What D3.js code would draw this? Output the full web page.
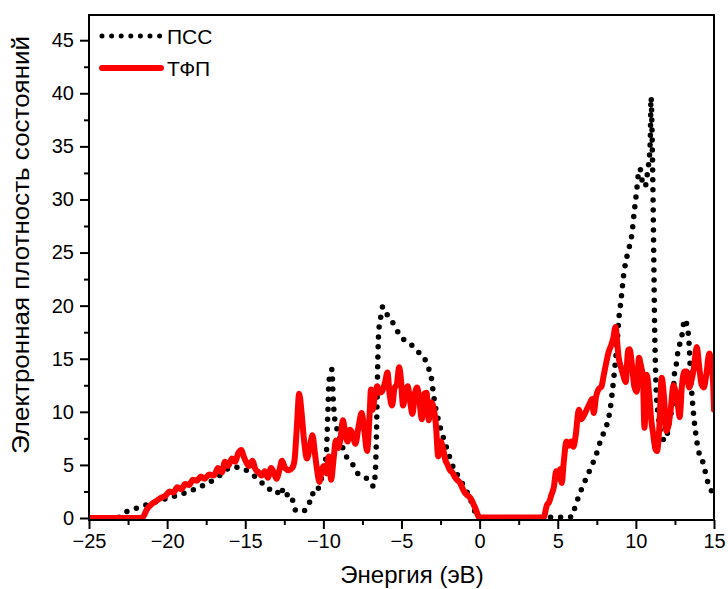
<!DOCTYPE html>
<html>
<head>
<meta charset="utf-8">
<script src="https://cdn.jsdelivr.net/npm/d3@7/dist/d3.min.js"></script>
<style>
  body { margin: 0; background: #fff; }
  svg { display: block; font-family: "Liberation Sans", Arial, sans-serif; }
</style>
</head>
<body>
<svg id="chart" width="728" height="589"></svg>
<script>
// Axis ticks
const xTicks = [-25, -20, -15, -10, -5, 0, 5, 10, 15];
const yTicks = [0, 5, 10, 15, 20, 25, 30, 35, 40, 45];

// Series names
const seriesNames = ["ПСС", "ТФП"];

// ПСС (density of states, dotted)
const pssE = [-25, -23.2, -22.8, -22.1, -21.4, -20.1, -19.0, -18.0, -16.9, -15.8, -15.1, -14.7, -14.3, -13.6, -13.0,
  -12.7, -12.5, -12.2, -11.95, -11.75, -11.3, -10.9, -10.75, -10.5, -10.3, -10.0, -9.8, -9.75, -9.7, -9.65, -9.55,
  -9.45, -9.38, -9.3, -9.15, -9.0, -8.5, -8.1, -7.8, -7.5, -7.2, -7.0, -6.8, -6.68, -6.62, -6.57, -6.52, -6.46,
  -6.35, -6.2, -5.9, -5.6, -5.3, -5.0, -4.5, -3.9, -3.55, -3.3, -3.1, -3.0, -2.9, -2.6, -2.2, -2.0, -1.8, -1.2,
  -0.6, -0.3, 0, 5.9, 6.1, 6.36, 6.6, 6.9, 7.2, 7.45, 7.7, 7.96, 8.2, 8.35, 8.5, 8.66, 8.8, 8.9, 9.05, 9.2, 9.45,
  9.75, 9.9, 10.07, 10.15, 10.26, 10.4, 10.6, 10.7, 10.8, 10.92, 10.97, 11.05, 11.1, 11.15, 11.2, 11.25, 11.3,
  11.45, 11.6, 11.85, 12.2, 12.4, 12.45, 12.6, 12.7, 12.9, 13.0, 13.1, 13.3, 13.4, 13.5, 13.65, 14.0, 14.3, 14.6,
  14.9, 15.0];
const pssDos = [0, 0, 0.45, 0.85, 1.2, 1.8, 2.3, 2.85, 3.7, 4.8, 4.6, 4.3, 3.8, 2.9, 2.3,
  2.9, 2.0, 2.3, 1.6, 0.65, 0.65, 1.4, 2.3, 2.2, 2.9, 4.5, 6.3, 8.4, 10.5, 12.7, 13.6,
  14.0, 11.5, 9.7, 8.5, 7.7, 5.7, 5.0, 4.2, 3.9, 3.7, 3.4, 3.0, 4.2, 6.7, 10.5, 14.6, 17.5,
  18.7, 19.9, 19.1, 18.5, 17.7, 17.0, 16.5, 15.6, 15.1, 14.2, 13.3, 12.2, 11.1, 9.0, 7.0, 6.1, 5.2, 3.5,
  1.8, 0.6, 0, 0.1, 1.0, 2.1, 3.0, 4.0, 5.0, 5.9, 7.1, 8.1, 9.1, 10.2, 12.0, 14.3, 16.5, 18.6, 20.5, 22.7, 24.8,
  26.8, 28.9, 31.1, 32.3, 32.9, 31.8, 31.2, 32.1, 33.1, 35.5, 39.6, 35.0, 30.0, 24.0, 18.0, 14.5, 12.0,
  9.5, 8.0, 7.3, 9.5, 11.4, 13.3, 14.6, 15.8, 16.8, 17.7, 18.7, 18.0, 16.5, 13.5, 10.5, 6.4, 5.2, 3.4,
  2.4, 2.2];

// ТФП (density of states, solid)
const dftE = [-25, -21.6, -21.3, -21.0, -20.7, -20.4, -20.1, -19.85, -19.6, -19.35, -19.1, -18.85, -18.6, -18.35,
  -18.1, -17.85, -17.6, -17.3, -17.0, -16.75, -16.5, -16.3, -16.1, -15.85, -15.65, -15.45, -15.25, -15.1, -14.95,
  -14.75, -14.55, -14.35, -14.15, -13.95, -13.75, -13.55, -13.35, -13.15, -13.0, -12.8, -12.65, -12.45, -12.2,
  -12.0, -11.85, -11.7, -11.55, -11.4, -11.25, -11.05, -10.85, -10.7, -10.55, -10.4, -10.25, -10.1, -9.95, -9.8,
  -9.65, -9.5, -9.35, -9.2, -9.05, -8.9, -8.75, -8.6, -8.45, -8.3, -8.15, -7.95, -7.75, -7.55, -7.4, -7.2, -7.05,
  -6.95, -6.85, -6.7, -6.55, -6.4, -6.25, -6.05, -5.9, -5.75, -5.6, -5.45, -5.3, -5.15, -5.05, -4.9, -4.75, -4.6,
  -4.45, -4.3, -4.15, -4.0, -3.85, -3.7, -3.55, -3.4, -3.25, -3.1, -2.95, -2.8, -2.65, -2.5, -2.35, -2.2, -2.05,
  -1.9, -1.75, -1.6, -1.45, -1.25, -1.1, -0.95, -0.75, -0.6, -0.3, 0, 4.1, 4.3, 4.45, 4.6, 4.75, 4.9, 5.0, 5.15,
  5.25, 5.4, 5.55, 5.7, 5.85, 6.0, 6.15, 6.35, 6.5, 6.65, 6.85, 7.05, 7.2, 7.3, 7.45, 7.6, 7.8, 7.95, 8.1, 8.25,
  8.4, 8.55, 8.7, 8.8, 8.9, 9.05, 9.2, 9.35, 9.5, 9.6, 9.75, 9.9, 10.05, 10.2, 10.3, 10.45, 10.55, 10.7, 10.85,
  11.0, 11.1, 11.25, 11.35, 11.5, 11.65, 11.8, 11.95, 12.1, 12.25, 12.4, 12.55, 12.7, 12.8, 12.95, 13.1, 13.25,
  13.4, 13.55, 13.7, 13.9, 14.05, 14.2, 14.35, 14.5, 14.7, 14.85, 14.95, 15.0];
const dftDos = [0, 0, 0.8, 1.3, 1.6, 1.9, 2.1, 2.5, 2.4, 2.9, 2.7, 3.2, 3.1, 3.6,
  3.5, 3.9, 3.7, 4.1, 4.0, 4.7, 4.3, 5.3, 4.9, 5.6, 5.3, 6.1, 6.4, 5.8, 5.3,
  4.9, 5.4, 4.6, 4.3, 4.0, 4.4, 3.8, 4.7, 4.2, 3.7, 4.6, 5.4, 4.7, 4.5,
  4.7, 5.4, 8.5, 11.7, 10.0, 7.5, 5.6, 6.8, 7.8, 6.2, 4.5, 3.4, 4.6, 4.9, 4.2,
  5.8, 3.6, 5.5, 7.3, 6.6, 7.5, 9.2, 8.0, 7.2, 8.3, 8.0, 7.0, 8.6, 9.9, 8.5, 6.3, 9.5,
  12.1, 10.2, 11.6, 12.4, 11.8, 11.9, 12.8, 13.7, 11.5, 10.6, 12.2, 12.6, 14.2, 13.3, 10.6, 11.7, 12.4,
  11.0, 9.8, 11.6, 12.3, 11.0, 9.3, 11.7, 11.8, 9.2, 10.9, 10.4, 8.8, 5.8, 7.2, 6.6, 5.5, 5.0,
  4.5, 4.3, 3.9, 3.6, 3.3, 2.8, 2.4, 2.1, 1.9, 1.0, 0.05, 0.05, 1.2, 1.5, 2.2, 2.9, 4.4, 3.7, 4.6,
  3.3, 5.5, 7.2, 6.8, 7.2, 6.7, 7.8, 10.2, 9.3, 9.6, 10.2, 10.8, 11.2, 9.9, 11.4, 12.1, 12.4, 13.5, 14.6, 15.6,
  16.2, 16.9, 18.0, 16.6, 15.1, 14.2, 13.4, 12.8, 15.8, 15.9, 14.4, 12.4, 11.9, 15.1, 14.5, 13.2, 8.5, 13.5, 11.6,
  9.0, 8.0, 6.5, 6.3, 8.5, 13.2, 11.4, 8.2, 8.8, 10.5, 12.5, 11.9, 10.5, 9.5, 12.5, 13.8, 13.8,
  12.3, 12.9, 14.0, 16.1, 14.3, 12.6, 12.3, 13.4, 15.5, 14.4, 12.5, 10.2];

const svg = d3.select("#chart");
const plotLeft = 89, plotRight = 714, plotTop = 15, plotBottom = 520;

const x = d3.scaleLinear().domain([-25, 15]).range([plotLeft, plotRight]);
const y = d3.scaleLinear().domain([0, 45]).range([518, 40.2]);

// clip region for the curves
svg.append("defs").append("clipPath").attr("id", "plotClip")
  .append("rect").attr("x", plotLeft).attr("y", plotTop)
  .attr("width", plotRight - plotLeft).attr("height", plotBottom - plotTop);

const lineGen = d3.line().x(d => x(d[0])).y(d => y(d[1])).curve(d3.curveMonotoneX);

const dftPts = dftE.map((e, i) => [e, dftDos[i]]);
const pssPts = pssE.map((e, i) => [e, pssDos[i]]);

// dotted series first, solid series drawn over it
const curves = svg.append("g").attr("clip-path", "url(#plotClip)");
curves.append("path").datum(pssPts)
  .attr("d", lineGen)
  .attr("fill", "none").attr("stroke", "#000").attr("stroke-width", 5.5)
  .attr("stroke-dasharray", "0 10").attr("stroke-linecap", "round");
curves.append("path").datum(dftPts)
  .attr("d", lineGen)
  .attr("fill", "none").attr("stroke", "#ff0000").attr("stroke-width", 6)
  .attr("stroke-linejoin", "round").attr("stroke-linecap", "round");

// frame
svg.append("rect").attr("x", plotLeft).attr("y", plotTop)
  .attr("width", plotRight - plotLeft).attr("height", plotBottom - plotTop)
  .attr("fill", "none").attr("stroke", "#000").attr("stroke-width", 2);

// minor ticks
const xMinor = d3.range(-22.5, 15, 5);
const yMinor = d3.range(2.5, 47, 5);

svg.append("g").attr("transform", `translate(0,${plotBottom})`)
  .call(d3.axisBottom(x).tickValues(xTicks).tickSize(9).tickPadding(5).tickFormat(d3.format("d")));
svg.append("g").attr("transform", `translate(0,${plotBottom})`)
  .call(d3.axisBottom(x).tickValues(xMinor).tickSize(5).tickFormat(""));

svg.append("g").attr("transform", `translate(${plotLeft},0)`)
  .call(d3.axisLeft(y).tickValues(yTicks).tickSize(9).tickPadding(6));
svg.append("g").attr("transform", `translate(${plotLeft},0)`)
  .call(d3.axisLeft(y).tickValues(yMinor).tickSize(5).tickFormat(""));

svg.selectAll(".domain").remove();
svg.selectAll(".tick line").attr("stroke", "#000").attr("stroke-width", 2);
svg.selectAll(".tick text").attr("fill", "#000").style("font-size", "20px")
  .style("font-family", "'Liberation Sans', Arial, sans-serif");

// axis titles
svg.append("text").attr("x", 412).attr("y", 583).attr("text-anchor", "middle")
  .style("font-size", "24px").text("Энергия (эВ)");
svg.append("text").attr("transform", "translate(29,245) rotate(-90)").attr("text-anchor", "middle")
  .attr("textLength", 418).attr("lengthAdjust", "spacingAndGlyphs")
  .style("font-size", "23px").text("Электронная плотность состояний");

// legend
const legend = svg.append("g");
legend.append("line").attr("x1", 102).attr("x2", 160).attr("y1", 36).attr("y2", 36)
  .attr("stroke", "#000").attr("stroke-width", 5).attr("stroke-dasharray", "0 9.6").attr("stroke-linecap", "round");
legend.append("text").attr("x", 167).attr("y", 44).style("font-size", "21px").text(seriesNames[0]);
legend.append("line").attr("x1", 102).attr("x2", 161).attr("y1", 68).attr("y2", 68)
  .attr("stroke", "#ff0000").attr("stroke-width", 6).attr("stroke-linecap", "round");
legend.append("text").attr("x", 167).attr("y", 76).style("font-size", "21px").text(seriesNames[1]);
</script>
</body>
</html>
